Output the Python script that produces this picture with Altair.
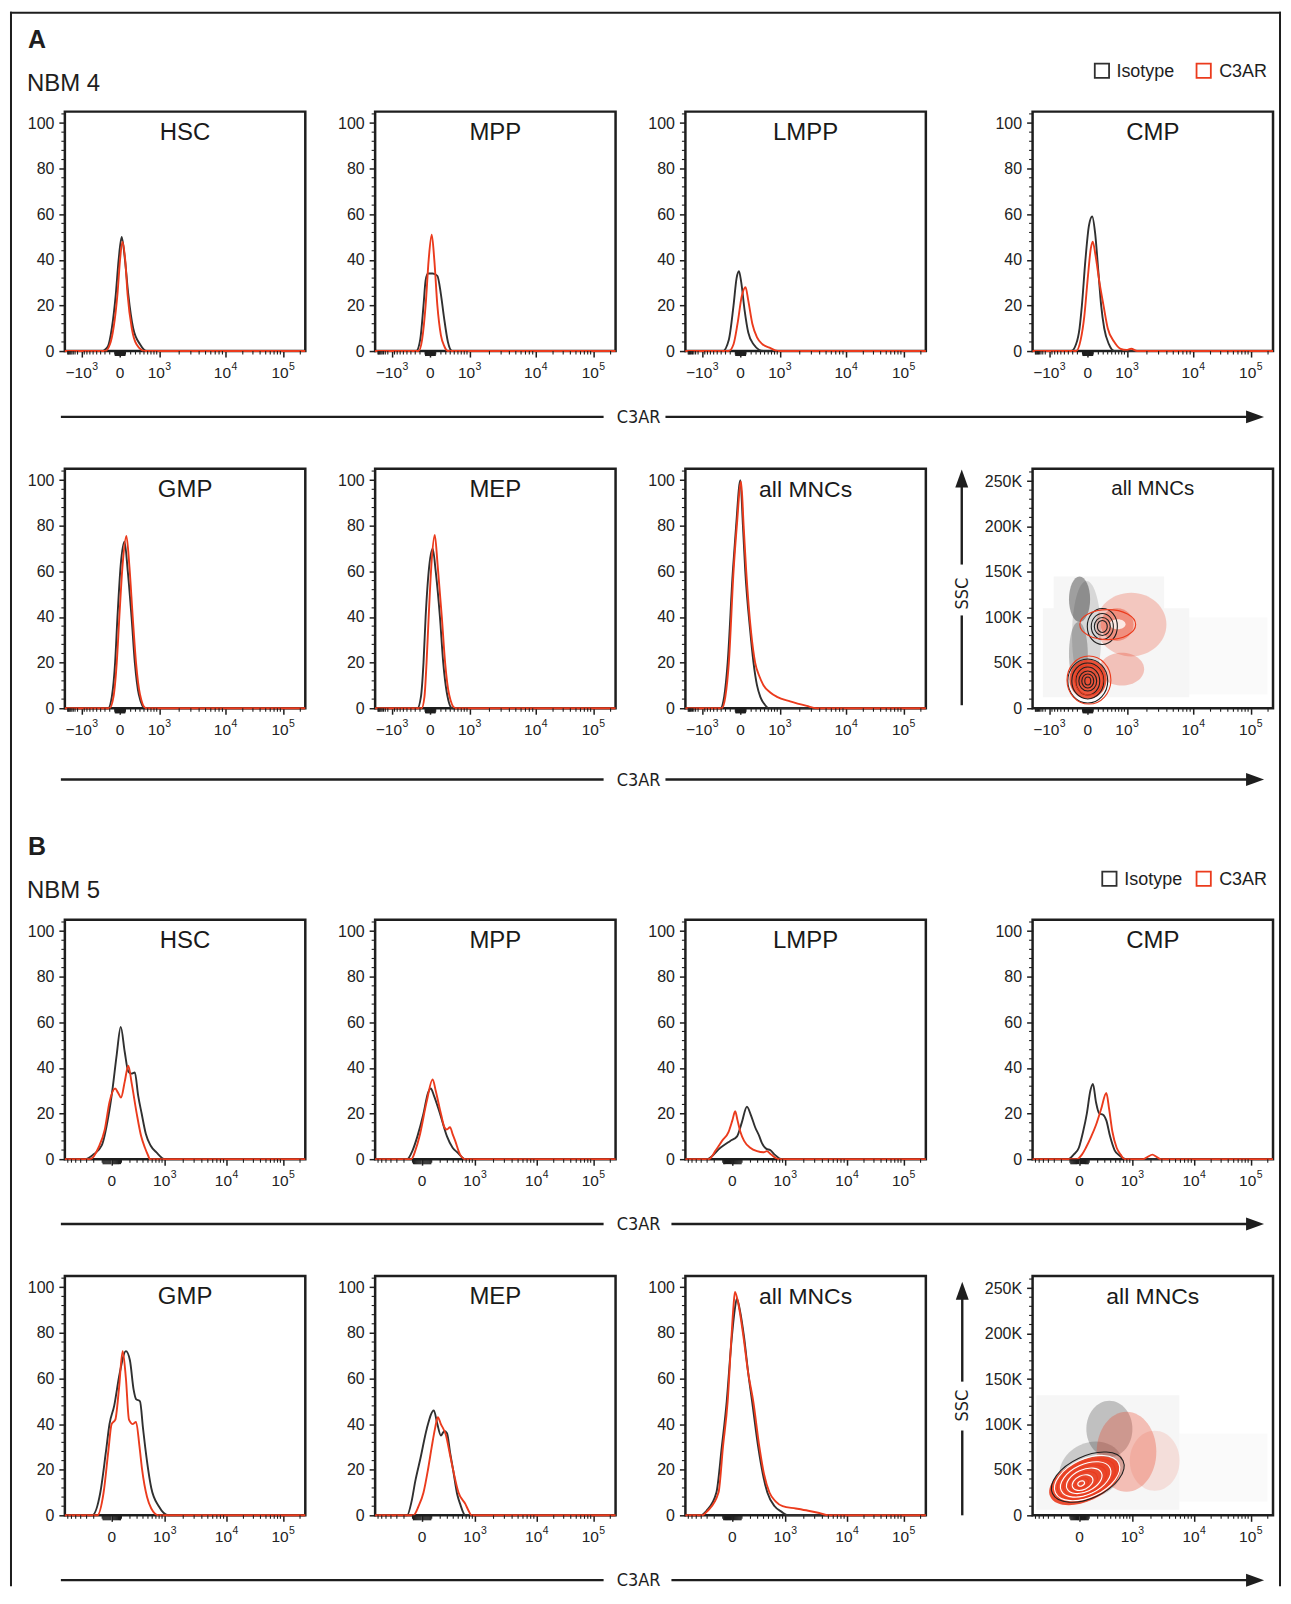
import math
import altair as alt
import pandas as pd

# ------------------------------------------------------------------ constants
W, H = 241, 240            # plot area of every panel (px)
XMAX = 1024.0              # display channels of the biexponential C3AR axis
HIST_TOP = 105.0           # % of max
SSC_TOP = 263500.0
INK = "#1e1e1e"
BLK = "#303030"
RED = "#eb3b1d"
FONT = "Liberation Sans"
NARROW = "Liberation Sans Narrow, DejaVu Sans Condensed, sans-serif"

# ------------------------------------------------------------------ axis data
A_TICK_CH = [72, 235, 402, 684, 929]
A_TICK_VAL = [-1000, 0, 1000, 10000, 100000]
A_TICK_BASE = ["\u221210", "0", "10", "10", "10"]
A_TICK_EXP = ["3", "", "3", "4", "5"]
B_TICK_CH = [200, 425, 688, 929]
B_TICK_VAL = [0, 1000, 10000, 100000]
B_TICK_BASE = ["0", "10", "10", "10"]
B_TICK_EXP = ["", "3", "4", "5"]
A_DISPLAY = dict(zero=235, c=500.0, kpos=115.7, kneg=112.9, dec={3: 402, 4: 684, 5: 929}, negdec=72)
B_DISPLAY = dict(zero=200, c=263.0, kpos=110.0, kneg=110.0, dec={3: 425, 4: 688, 5: 929}, negdec=None)
MINOR_MANTISSA = [1, 2, 3, 4, 5, 6, 7, 8, 9]
MINOR_EXPONENTS = [1, 2, 3, 4, 5]
HIST_Y_TICKS = [0, 20, 40, 60, 80, 100]
SSC_Y_TICKS = [0, 50000, 100000, 150000, 200000, 250000]

# ------------------------------------------------------------------ histogram curves (channel, % of max)
A_HSC_ISO = [(0, 0), (157, 0), (183, 2), (200, 10), (217, 25), (229, 40), (242, 50), (256, 40), (270, 25), (291, 10), (320, 3), (348, 0), (1024, 0)]
A_HSC_C3 = [(0, 0), (171, 0), (192, 3), (207, 10), (224, 25), (235, 40), (245, 48), (257, 40), (267, 25), (285, 10), (305, 3), (341, 0), (1024, 0)]
A_MPP_ISO = [(0, 0), (175, 0), (192, 5), (206, 20), (215, 31), (225, 34), (245, 34), (265, 33), (280, 25), (293, 15), (310, 4), (328, 0), (1024, 0)]
A_MPP_C3 = [(0, 0), (185, 0), (200, 5), (215, 20), (228, 40), (241, 51), (252, 40), (265, 20), (280, 7), (295, 2), (310, 0), (1024, 0)]
A_LMPP_ISO = [(0, 0), (159, 0), (185, 5), (205, 20), (218, 32), (228, 35), (238, 30), (252, 18), (268, 8), (290, 3), (332, 0), (1024, 0)]
A_LMPP_C3 = [(0, 0), (184, 0), (205, 3), (222, 12), (240, 24), (256, 28), (268, 22), (285, 12), (305, 6), (328, 3), (358, 1.5), (393, 0), (1024, 0)]
A_CMP_ISO = [(0, 0), (164, 0), (185, 3), (200, 10), (210, 20), (225, 40), (240, 55), (254, 59), (266, 52), (280, 35), (292, 20), (305, 10), (325, 3), (348, 0), (1024, 0)]
A_CMP_C3 = [(0, 0), (186, 0), (205, 5), (220, 15), (235, 32), (248, 45), (256, 48), (268, 42), (285, 30), (302, 20), (320, 10), (348, 4), (375, 1), (400, 0.5), (420, 1), (445, 0), (1024, 0)]
A_GMP_ISO = [(0, 0), (184, 0), (200, 5), (214, 20), (224, 40), (238, 63), (254, 73), (268, 60), (284, 40), (298, 20), (315, 6), (341, 0), (1024, 0)]
A_GMP_C3 = [(0, 0), (190, 0), (207, 5), (221, 20), (232, 40), (246, 63), (262, 75.5), (275, 62), (289, 40), (303, 20), (320, 6), (345, 0), (1024, 0)]
A_MEP_ISO = [(0, 0), (180, 0), (195, 5), (206, 20), (215, 40), (230, 62), (245, 70), (258, 60), (276, 40), (290, 20), (305, 7), (328, 0), (1024, 0)]
A_MEP_C3 = [(0, 0), (198, 0), (210, 5), (219, 20), (228, 40), (241, 65), (254, 76), (266, 63), (284, 40), (298, 20), (315, 6), (341, 0), (1024, 0)]
A_ALL_ISO = [(0, 0), (149, 0), (165, 5), (180, 20), (202, 60), (216, 80), (234, 100), (245, 80), (255, 60), (275, 35), (290, 20), (305, 10), (319, 5), (335, 2), (355, 0), (1024, 0)]
A_ALL_C3 = [(0, 0), (155, 0), (170, 5), (185, 20), (205, 60), (219, 80), (237, 99.5), (248, 80), (259, 60), (280, 33), (297, 20), (315, 14), (333, 10), (360, 7), (390, 5), (446, 3), (517, 1), (559, 0), (1024, 0)]

B_HSC_ISO = [(0, 0), (86, 0), (121, 2), (157, 6), (184, 18), (202, 30), (221, 46), (238, 58), (255, 47), (270, 38.5), (283, 37.5), (298, 38), (312, 28), (327, 20), (345, 11), (365, 6), (390, 3), (426, 0), (1024, 0)]
B_HSC_C3 = [(0, 0), (108, 0), (143, 5), (170, 13), (190, 25), (214, 31), (227, 29), (239, 27), (255, 34), (270, 41), (285, 33), (306, 20), (325, 10), (341, 5), (355, 1.5), (362, 0), (1024, 0)]
B_MPP_ISO = [(0, 0), (136, 0), (160, 4), (180, 10), (206, 20), (225, 29), (237, 31), (250, 28), (276, 20), (306, 10), (330, 5), (350, 3), (384, 0), (1024, 0)]
B_MPP_C3 = [(0, 0), (154, 0), (172, 4), (189, 10), (219, 25), (245, 35), (258, 30), (280, 20), (295, 14), (305, 13), (319, 14), (330, 11), (341, 8), (362, 2), (384, 0), (1024, 0)]
B_LMPP_ISO = [(0, 0), (92, 0), (149, 5), (191, 8), (220, 10), (240, 16), (262, 23), (280, 19), (297, 14), (315, 10), (326, 7), (345, 4.5), (361, 4), (380, 2), (411, 0), (1024, 0)]
B_LMPP_C3 = [(0, 0), (99, 0), (130, 4), (156, 8), (184, 12), (200, 17), (212, 21), (222, 17), (234, 12), (250, 8), (276, 5), (305, 3.5), (333, 3), (347, 3.5), (365, 2), (397, 0), (1024, 0)]
B_CMP_ISO = [(0, 0), (153, 0), (175, 2), (197, 5), (215, 12), (231, 20), (246, 30), (257, 33), (270, 25), (284, 20), (300, 19.5), (314, 17), (330, 10), (349, 4), (371, 1.5), (401, 0), (1024, 0)]
B_CMP_C3 = [(0, 0), (188, 0), (210, 2), (227, 5), (250, 10), (270, 15), (292, 22), (314, 29), (326, 22), (340, 12), (358, 5), (375, 2), (392, 0), (470, 0), (490, 1), (510, 2), (528, 1), (545, 0), (1024, 0)]
B_GMP_ISO = [(0, 0), (116, 0), (151, 10), (175, 28), (190, 40), (210, 48), (233, 62), (260, 72), (277, 68), (293, 55), (303, 51), (320, 50), (333, 38), (342, 30), (368, 12), (400, 4), (442, 0), (1024, 0)]
B_GMP_C3 = [(0, 0), (138, 0), (165, 10), (185, 28), (199, 40), (215, 42), (230, 55), (246, 72), (260, 60), (273, 42), (290, 40), (303, 41), (318, 30), (329, 20), (350, 8), (368, 3), (399, 0), (1024, 0)]
B_MEP_ISO = [(0, 0), (136, 0), (155, 6), (171, 15), (193, 25), (220, 38), (250, 46), (265, 40), (280, 35), (295, 37), (306, 36), (320, 27), (332, 20), (350, 9), (362, 5), (384, 0), (1024, 0)]
B_MEP_C3 = [(0, 0), (163, 0), (185, 4), (206, 10), (225, 20), (241, 30), (255, 38), (267, 43), (280, 40), (302, 35), (318, 27), (332, 20), (355, 10), (384, 5), (398, 2), (410, 0), (1024, 0)]
B_ALL_ISO = [(0, 0), (63, 0), (90, 2), (132, 10), (155, 30), (176, 50), (195, 75), (210, 90), (219, 95), (232, 90), (250, 78), (268, 62), (284, 50), (310, 30), (330, 18), (349, 10), (380, 4), (410, 1.5), (436, 0), (1024, 0)]
B_ALL_C3 = [(0, 0), (70, 0), (95, 2), (141, 10), (160, 30), (180, 50), (196, 78), (205, 92), (211, 98), (225, 93), (245, 80), (268, 62), (289, 50), (315, 30), (335, 18), (358, 10), (385, 6), (414, 4), (470, 3), (523, 2), (570, 1), (610, 0), (1024, 0)]

# ------------------------------------------------------------------ SSC vs C3AR density summaries
# background noise regions: (ch from, ch to, SSC K from, SSC K to, relative density)
A_NOISE = [(44, 667, 12, 110, 0.07), (90, 560, 110, 145, 0.07), (667, 1000, 15, 100, 0.035)]
B_NOISE = [(16, 625, 6, 132, 0.07), (625, 1000, 15, 90, 0.035)]
# dense clouds: (ch, SSC K, half-length in ch, half-height in K, tilt deg, density, stain)
A_CLOUDS = [(230, 80, 62, 60, 0, 0.14, "iso"), (200, 120, 45, 25, 0, 0.40, "iso"),
            (195, 60, 40, 35, 0, 0.28, "iso"),
            (420, 92, 150, 35, 0, 0.25, "c3"), (360, 92, 70, 18, 0, 0.40, "c3"),
            (380, 43, 95, 18, 0, 0.28, "c3"), (236, 32, 79, 21.5, 0, 0.85, "c3"),
            (362, 92.5, 34, 5.5, 0, 0.80, "gap")]
B_CLOUDS = [(250, 50, 140, 30, 335, 0.20, "iso"), (327, 95, 98, 31, 0, 0.25, "iso"),
            (400, 70, 127, 44, 0, 0.30, "c3"), (520, 60, 106, 33, 0, 0.13, "c3"),
            (222, 38, 161.5, 22.5, 335, 0.90, "c3")]
# contour levels: (ch, SSC K, half-length in ch, half-height in K, tilt deg, stain)
A_CONTOURS = [(235, 30, 85, 24.2, 0, "iso"), (235, 30, 68, 19.8, 0, "iso"), (235, 30, 51, 15.4, 0, "iso"),
              (235, 30, 38, 11, 0, "iso"), (235, 30, 25.5, 7.7, 0, "iso"), (235, 30, 12.7, 4.4, 0, "iso"),
              (297, 90, 64, 19.8, 0, "iso"), (297, 90, 47, 14.3, 0, "iso"), (297, 90, 34, 9.9, 0, "iso"),
              (297, 90, 21, 6.6, 0, "iso"), (240, 31, 93.5, 26.4, 0, "c3"), (240, 31, 59.5, 16.5, 0, "c3"),
              (320, 92, 119, 16.5, 0, "c3")]
B_CONTOURS = [(235, 42, 165.7, 23.1, 335, "iso"), (232, 41, 148.7, 20.9, 335, "gap"),
              (229, 40, 131.7, 18.7, 335, "c3"), (226, 39.5, 114.7, 16.5, 335, "gap"),
              (223, 38.5, 97.7, 14.3, 335, "c3"), (220, 38, 80.7, 12.1, 335, "gap"),
              (216, 37, 63.7, 9.9, 335, "c3"), (213, 36, 46.7, 7.7, 335, "gap"),
              (210, 35.5, 29.7, 4.9, 335, "c3"), (207, 35, 14.9, 2.7, 335, "gap")]
STAIN_COLOURS = {"iso": "#1f1f1f", "c3": RED, "gap": "#ffffff"}

# ------------------------------------------------------------------ helpers
DUMMY = pd.DataFrame({"t": ["."]})


def display_channel(v, d):
    """Approximate FlowJo biexponential display channel of a fluorescence value."""
    z = d["zero"]
    if v == 0:
        return z
    if abs(v) <= 1000:
        k = d["kpos"] if v > 0 else d["kneg"]
        return z + k * math.asinh(v / d["c"])
    if v > 0:
        lg = math.log10(v)
        e = int(math.floor(lg))
        dec = d["dec"]
        if e >= 5:
            return dec[5] + (lg - 5) * (dec[5] - dec[4])
        return dec[e] + (lg - e) * (dec[e + 1] - dec[e])
    if d["negdec"] is None:
        return z - d["kneg"] * math.asinh(-v / d["c"])
    return d["negdec"] - (math.log10(-v) - 3) * 60


def minor_channels(d, majors, near_zero):
    out = []
    for e in MINOR_EXPONENTS:
        if (e == 1) != near_zero:
            continue
        for m in MINOR_MANTISSA:
            for s in (1, -1):
                v = s * m * 10 ** e
                if v in majors:
                    continue
                c = display_channel(v, d)
                if 2 <= c <= 1020:
                    out.append(c)
    return out


def xscale():
    return alt.Scale(domain=[0, XMAX], nice=False, zero=False)


def x_axis(ticks):
    return alt.Axis(values=ticks, labels=False, ticks=True, tickSize=6, tickWidth=1.5,
                    tickColor=INK, domain=False, grid=False, title=None)


def y_setup(kind):
    if kind == "hist":
        sc = alt.Scale(domain=[0, HIST_TOP], nice=False, zero=True)
        ax = alt.Axis(values=HIST_Y_TICKS, labelFont=FONT, labelFontSize=16, labelColor="#222222",
                      labelPadding=5, tickSize=6, tickWidth=1.5, tickColor=INK, domain=False,
                      grid=False, title=None)
        minor = [v for v in range(4, 105, 4) if v % 20]
    else:
        sc = alt.Scale(domain=[0, SSC_TOP], nice=False, zero=True)
        ax = alt.Axis(values=SSC_Y_TICKS, labelExpr="datum.value == 0 ? '0' : (datum.value / 1000) + 'K'",
                      labelFont=FONT, labelFontSize=16, labelColor="#222222", labelPadding=5,
                      tickSize=6, tickWidth=1.5, tickColor=INK, domain=False, grid=False, title=None)
        minor = [v * 10000 for v in range(1, 27) if v % 5]
    return sc, ax, minor


def axis_layers(row, kind):
    if row == "A":
        ticks, vals, base, exps, disp = A_TICK_CH, A_TICK_VAL, A_TICK_BASE, A_TICK_EXP, A_DISPLAY
    else:
        ticks, vals, base, exps, disp = B_TICK_CH, B_TICK_VAL, B_TICK_BASE, B_TICK_EXP, B_DISPLAY
    xs, xa = xscale(), x_axis(ticks)
    ys, ya, yminor = y_setup(kind)
    layers = []
    xm = pd.DataFrame({"ch": minor_channels(disp, vals, False)})
    layers.append(alt.Chart(xm).mark_rule(strokeWidth=1.1, color=INK).encode(
        x=alt.X("ch:Q", scale=xs, axis=xa), y=alt.value(H), y2=alt.value(H + 3.5)))
    xz = pd.DataFrame({"ch": minor_channels(disp, vals, True)})
    layers.append(alt.Chart(xz).mark_rule(strokeWidth=1.2, color=INK).encode(
        x=alt.X("ch:Q", scale=xs, axis=xa), y=alt.value(H), y2=alt.value(H + 5)))
    ym = pd.DataFrame({"v": yminor})
    layers.append(alt.Chart(ym).mark_rule(strokeWidth=1.1, color=INK).encode(
        y=alt.Y("v:Q", scale=ys, axis=ya), x=alt.value(0), x2=alt.value(-3.5)))
    lab = pd.DataFrame({"ch": ticks, "base": base, "exp": exps})
    groups = [
        (lab[lab["base"] == "0"], "center", 0, None),
        (lab[lab["base"] == "10"], "right", 5.6, 6.0),
        (lab[lab["base"] == "\u221210"], "right", 10.0, 10.4),
    ]
    for sub, al, dxb, dxe in groups:
        if len(sub) == 0:
            continue
        layers.append(alt.Chart(sub).mark_text(align=al, dx=dxb, baseline="alphabetic", font=FONT,
                                               fontSize=15.5, color="#222222").encode(
            x=alt.X("ch:Q", scale=xs, axis=xa), y=alt.value(H + 27), text="base:N"))
        if dxe is not None:
            layers.append(alt.Chart(sub).mark_text(align="left", dx=dxe, baseline="alphabetic", font=FONT,
                                                   fontSize=10.5, color="#222222").encode(
                x=alt.X("ch:Q", scale=xs, axis=xa), y=alt.value(H + 19), text="exp:N"))
    return layers, xs, xa, ys, ya


def title_layer(text, size=24, y=28.5, x=W / 2):
    return alt.Chart(pd.DataFrame({"t": [text]})).mark_text(
        align="center", baseline="alphabetic", font=FONT, fontSize=size, color="#1a1a1a").encode(
        text="t:N", x=alt.value(x), y=alt.value(y))


def curve_layer(points, colour, xs, xa, ys, ya):
    df = pd.DataFrame({"ch": [p[0] for p in points], "pct": [p[1] for p in points],
                       "i": list(range(len(points)))})
    return alt.Chart(df).mark_line(color=colour, strokeWidth=1.9, interpolate="monotone").encode(
        x=alt.X("ch:Q", scale=xs, axis=xa), y=alt.Y("pct:Q", scale=ys, axis=ya), order="i:Q")


def hist_panel(row, title, iso, c3, extra=(), tsize=24):
    layers, xs, xa, ys, ya = axis_layers(row, "hist")
    body = [curve_layer(iso, BLK, xs, xa, ys, ya), curve_layer(c3, RED, xs, xa, ys, ya)]
    return alt.layer(*(body + layers + [title_layer(title, tsize)] + list(extra))).properties(width=W, height=H)


def ellipse_path(ratio):
    r = round(ratio, 4)
    return f"M-1,0A1,{r} 0 1,1 1,0A1,{r} 0 1,1 -1,0Z"


def ellipse_frame(items, with_density):
    rows = []
    for it in items:
        ch, k, hl, hh, ang = it[0], it[1], it[2], it[3], it[4]
        a = hl * W / XMAX
        b = hh * 1000.0 * H / SSC_TOP
        row = {"ch": ch, "ssc": k * 1000.0, "shape": ellipse_path(b / a), "sz": (2 * a) ** 2, "ang": ang}
        if with_density:
            row["dens"] = it[5]
            row["col"] = STAIN_COLOURS[it[6]]
        else:
            row["col"] = STAIN_COLOURS[it[5]]
        rows.append(row)
    return pd.DataFrame(rows)


def scatter_panel(row, title, title_size, title_y, noise, clouds, contours, extra=()):
    layers, xs, xa, ys, ya = axis_layers(row, "ssc")
    nz = pd.DataFrame({"x1": [n[0] for n in noise], "x2": [n[1] for n in noise],
                       "y1": [n[2] * 1000.0 for n in noise], "y2": [n[3] * 1000.0 for n in noise],
                       "dens": [n[4] for n in noise]})
    noise_layer = alt.Chart(nz).mark_rect(color="#7a7a7a").encode(
        x=alt.X("x1:Q", scale=xs, axis=xa), x2="x2:Q",
        y=alt.Y("y1:Q", scale=ys, axis=ya), y2="y2:Q",
        opacity=alt.Opacity("dens:Q", scale=None))
    cl = ellipse_frame(clouds, True)
    cloud_layer = alt.Chart(cl).mark_point(filled=True, strokeWidth=0).encode(
        x=alt.X("ch:Q", scale=xs, axis=xa), y=alt.Y("ssc:Q", scale=ys, axis=ya),
        shape=alt.Shape("shape:N", scale=None), size=alt.Size("sz:Q", scale=None),
        angle=alt.Angle("ang:Q", scale=None), color=alt.Color("col:N", scale=None),
        opacity=alt.Opacity("dens:Q", scale=None))
    co = ellipse_frame(contours, False)
    contour_layer = alt.Chart(co).mark_point(filled=False, strokeWidth=1.1, opacity=1).encode(
        x=alt.X("ch:Q", scale=xs, axis=xa), y=alt.Y("ssc:Q", scale=ys, axis=ya),
        shape=alt.Shape("shape:N", scale=None), size=alt.Size("sz:Q", scale=None),
        angle=alt.Angle("ang:Q", scale=None), color=alt.Color("col:N", scale=None))
    body = [noise_layer, cloud_layer, contour_layer]
    return alt.layer(*(body + layers + [title_layer(title, title_size, title_y)] + list(extra))).properties(
        width=W, height=H)


# ------------------------------------------------------------------ decorations (figure furniture)
def deco_text(text, x, y, size, weight="normal", align="left", baseline="alphabetic", font=FONT, angle=0):
    return alt.Chart(pd.DataFrame({"t": [text]})).mark_text(
        align=align, baseline=baseline, fontSize=size, fontWeight=weight, font=font,
        color=INK, angle=angle).encode(text="t:N", x=alt.value(x), y=alt.value(y))


def deco_hline(x1, x2, y, sw=2.4):
    return alt.Chart(DUMMY).mark_rule(strokeWidth=sw, color=INK).encode(
        x=alt.value(x1), x2=alt.value(x2), y=alt.value(y))


def deco_vline(x, y1, y2, sw=2.4):
    return alt.Chart(DUMMY).mark_rule(strokeWidth=sw, color=INK).encode(
        x=alt.value(x), y=alt.value(y1), y2=alt.value(y2))


def deco_bar(x1, x2, y1, y2):
    return alt.Chart(DUMMY).mark_rect(color=INK, strokeWidth=0).encode(
        x=alt.value(x1), x2=alt.value(x2), y=alt.value(y1), y2=alt.value(y2))


def deco_head(x, y, path, size):
    return alt.Chart(DUMMY).mark_point(shape=path, filled=True, size=size, color=INK,
                                       strokeWidth=0, opacity=1).encode(x=alt.value(x), y=alt.value(y))


def c3ar_arrow(y, start2=602):
    return [deco_hline(-4, 540, y), deco_text("C3AR", 575, y + 1, 18, align="center", baseline="middle", font=NARROW),
            deco_hline(start2, 1194, y), deco_head(1193, y, "M1,0L-1,-0.72L-1,0.72Z", 324)]


def ssc_arrow(x, tip, top_end, text_y, low_start, bottom):
    return [deco_head(x, tip + 9, "M0,-1L-0.72,1L0.72,1Z", 324), deco_vline(x, tip + 16, top_end),
            deco_text("SSC", x + 1, text_y, 18, align="center", baseline="middle", font=NARROW, angle=270),
            deco_vline(x, low_start, bottom)]


def legend(xiso, xtext_iso, xc3, xtext_c3, y):
    sq = lambda x, c: alt.Chart(DUMMY).mark_point(shape="square", filled=False, size=205, strokeWidth=1.8,
                                                  color=c, opacity=1).encode(x=alt.value(x), y=alt.value(y))
    return [sq(xiso, BLK), deco_text("Isotype", xtext_iso, y + 6.5, 18),
            sq(xc3, RED), deco_text("C3AR", xtext_c3, y + 6.5, 18)]


# outer frame of the figure (filled thin bars, so bounds stay exact)
border = [deco_bar(-55, 1219, -100, -98), deco_bar(-55, -53, -100, 1478), deco_bar(1217, 1219, -100, 1478)]
head_a = [deco_text("A", -37, -64, 25, weight="bold"), deco_text("NBM 4", -38, -21, 24)]
head_b = [deco_text("B", -37, -65, 25, weight="bold"), deco_text("NBM 5", -38, -21.5, 24)]

# ------------------------------------------------------------------ panels
r1 = [hist_panel("A", "HSC", A_HSC_ISO, A_HSC_C3,
                 border + head_a + legend(1039.5, 1054, 1141.5, 1157, -41) + c3ar_arrow(306)),
      hist_panel("A", "MPP", A_MPP_ISO, A_MPP_C3),
      hist_panel("A", "LMPP", A_LMPP_ISO, A_LMPP_C3),
      hist_panel("A", "CMP", A_CMP_ISO, A_CMP_C3)]
r2 = [hist_panel("A", "GMP", A_GMP_ISO, A_GMP_C3, c3ar_arrow(311.5)),
      hist_panel("A", "MEP", A_MEP_ISO, A_MEP_C3),
      hist_panel("A", "all MNCs", A_ALL_ISO, A_ALL_C3, tsize=23),
      scatter_panel("A", "all MNCs", 20.5, 26, A_NOISE, A_CLOUDS, A_CONTOURS,
                    ssc_arrow(-71, 0.7, 96, 125, 147, 237))]
r3 = [hist_panel("B", "HSC", B_HSC_ISO, B_HSC_C3,
                 head_b + legend(1047, 1062, 1141.5, 1157, -41) + c3ar_arrow(305, 608)),
      hist_panel("B", "MPP", B_MPP_ISO, B_MPP_C3),
      hist_panel("B", "LMPP", B_LMPP_ISO, B_LMPP_C3),
      hist_panel("B", "CMP", B_CMP_ISO, B_CMP_C3)]
r4 = [hist_panel("B", "GMP", B_GMP_ISO, B_GMP_C3, c3ar_arrow(305, 608)),
      hist_panel("B", "MEP", B_MEP_ISO, B_MEP_C3),
      hist_panel("B", "all MNCs", B_ALL_ISO, B_ALL_C3, tsize=23),
      scatter_panel("B", "all MNCs", 23, 28, B_NOISE, B_CLOUDS, B_CONTOURS,
                    ssc_arrow(-70.5, 6, 106, 130, 155, 240))]


def spacer(w, h):
    return alt.Chart(DUMMY).mark_point(opacity=0).encode(x=alt.value(0), y=alt.value(0)).properties(
        width=w, height=h, view=alt.ViewBackground(stroke="transparent"))


COL_GAPS = [70, 70, 107]
ROW_GAPS = [118, 212, 117]


def panel_row(panels):
    cells = [panels[0]]
    for g, p in zip(COL_GAPS, panels[1:]):
        cells += [spacer(g, 1), p]
    return cells


def gap_row(h):
    return [spacer(1, h) for _ in range(7)]


cells = panel_row(r1) + gap_row(ROW_GAPS[0]) + panel_row(r2) + gap_row(ROW_GAPS[1]) + \
    panel_row(r3) + gap_row(ROW_GAPS[2]) + panel_row(r4)

chart = alt.concat(*cells, columns=7, spacing=0, bounds="flush", align="each").properties(
    padding=0, background="white"
).configure_view(stroke=INK, strokeWidth=2.5)

chart.save("out.html", embed_options={"renderer": "svg", "actions": False})
